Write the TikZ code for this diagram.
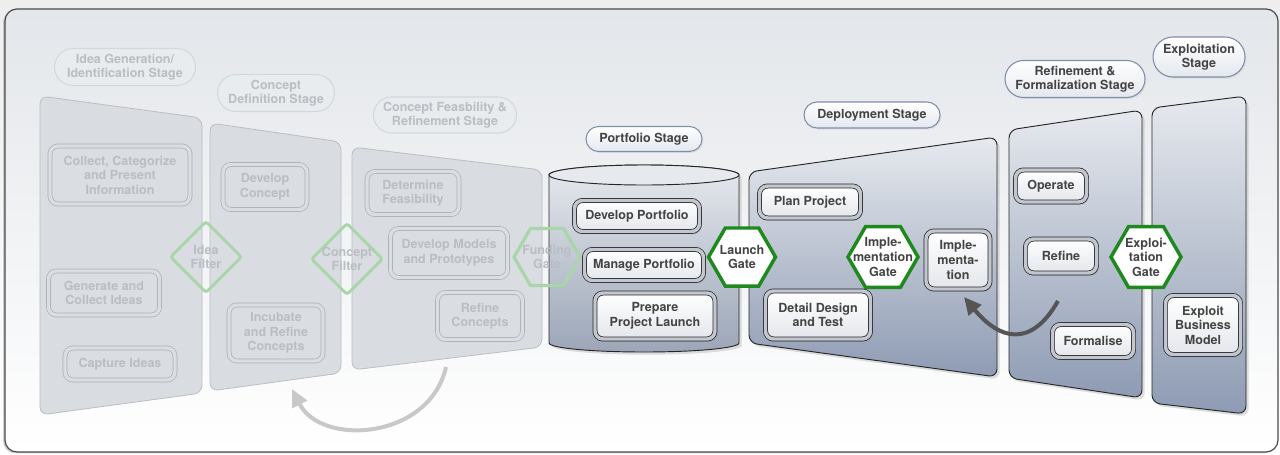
\documentclass[tikz,border=0pt]{standalone}
\usepackage{fontspec}
\setmainfont{TeX Gyre Heros}
\usetikzlibrary{shapes.geometric,shapes.misc,shadows,arrows.meta}
\definecolor{txt}{HTML}{444444}
\definecolor{ftxt}{HTML}{BABDC1}
\definecolor{fline}{HTML}{ABAEB2}
\definecolor{fband}{HTML}{DADDE1}
\definecolor{fpanel}{HTML}{D9DCE0}
\definecolor{fpline}{HTML}{BABDC1}
\definecolor{dline}{HTML}{262626}
\definecolor{dband}{HTML}{C2C6CE}
\definecolor{boxbot}{HTML}{E3E6EB}
\definecolor{ptop}{HTML}{E6E9EE}
\definecolor{pbot}{HTML}{8E9BB3}
\definecolor{cbot}{HTML}{9CA6B8}
\definecolor{gatec}{HTML}{1E8A1E}
\definecolor{fgatec}{HTML}{A8D6A8}
\definecolor{lblline}{HTML}{7F8EA9}
\definecolor{lblbot}{HTML}{E4E8EE}
\definecolor{flblline}{HTML}{D2D8E0}
\definecolor{flblfill}{HTML}{E9ECEF}
\definecolor{bgtop}{HTML}{E3E6EA}
\definecolor{outtop}{HTML}{EEEEEE}
\definecolor{frameline}{HTML}{4A4A4A}
\definecolor{garrow}{HTML}{C8C8C8}
\definecolor{darrow}{HTML}{555555}
\tikzset{
  sz/.style 2 args={minimum width={(#1)*0.75pt}, minimum height={(#2)*0.75pt}},
  base/.style={align=center, inner sep=0pt},
  task/.style={base, rectangle, rounded corners=6pt, draw=dline, line width=0.55pt,
    double=dband, double distance=2.6pt, top color=white, bottom color=boxbot, text=txt,
    drop shadow={opacity=0.3, shadow xshift=1.5pt, shadow yshift=-2pt}},
  ftask/.style={base, rectangle, rounded corners=6pt, draw=fline, line width=0.5pt,
    double=fband, double distance=2.6pt, fill=fband, text=ftxt},
  stagelbl/.style={base, rounded rectangle, draw=lblline, line width=0.8pt,
    top color=white, bottom color=lblbot, text=txt,
    drop shadow={opacity=0.12, shadow xshift=1pt, shadow yshift=-1.2pt}},
  fstagelbl/.style={base, rounded rectangle, draw=flblline, line width=0.8pt,
    fill=flblfill, text=ftxt},
  gatehex/.style={regular polygon, regular polygon sides=6, draw=gatec, line width=2.6pt,
    fill=white, inner sep=0pt},
  fgatehex/.style={regular polygon, regular polygon sides=6, draw=fgatec, line width=2.4pt,
    inner sep=0pt},
  fgatedia/.style={diamond, draw=fgatec, line width=2.2pt, rounded corners=2pt, inner sep=0pt},
  gtxt/.style={base, text=txt},
  fgtxt/.style={base, text=ftxt},
  fpanelsty/.style={fill=fpanel, draw=fpline, line width=0.6pt, rounded corners=6pt},
  dpanelsty/.style={top color=ptop, bottom color=pbot, draw=dline, line width=0.7pt,
    rounded corners=6pt, drop shadow={opacity=0.25, shadow xshift=2pt, shadow yshift=-2pt}},
}
\begin{document}
\begin{tikzpicture}[x=0.75pt, y=-0.75pt, font=\fontsize{9.4}{10.9}\selectfont\bfseries]
\useasboundingbox (0,0) rectangle (1280,454);
\fill[top color=outtop, bottom color=white] (0,0) rectangle (1280,454);
% frame
\path[draw=frameline, line width=0.9pt, rounded corners=9pt, top color=bgtop, bottom color=white,
  drop shadow={opacity=0.35, shadow xshift=-1.5pt, shadow yshift=-1pt}] (5,9) rectangle (1278,452);

% faded panels
\path[fpanelsty] (40,96) -- (202,118) -- (202,393) -- (40,415) -- cycle;
\path[fpanelsty] (210,123) -- (341,142) -- (341,373) -- (210,391) -- cycle;
\path[fpanelsty] (352,147) -- (542,170) -- (542,347) -- (352,370) -- cycle;

% cylinder (portfolio)
\path[top color=ptop, bottom color=cbot, draw=dline, line width=0.7pt,
  drop shadow={opacity=0.25, shadow xshift=2pt, shadow yshift=-2pt}]
  (549,175) -- (549,343) arc[start angle=180, end angle=0, x radius=95, y radius=9]
  -- (739,175) arc[start angle=360, end angle=180, x radius=95, y radius=10] -- cycle;
\path[fill=ptop, draw=dline, line width=0.7pt] (644,175) ellipse [x radius=95, y radius=10];

% dark panels
\path[dpanelsty] (749,172) -- (997,137) -- (997,377) -- (749,343) -- cycle;
\path[dpanelsty] (1009,130) -- (1142,110) -- (1142,398) -- (1009,378) -- cycle;
\path[dpanelsty] (1152,108) -- (1246,96) -- (1246,414) -- (1152,403) -- cycle;

% stage labels
\node[fstagelbl, sz={141}{37}] (sIdea) at (125,67) {Idea Generation/\\Identification Stage};
\node[fstagelbl, sz={117}{37}] (sCdef) at (276,93) {Concept\\Definition Stage};
\node[fstagelbl, sz={143}{36}] (sCfeas) at (445,115) {Concept Feasbility \&\\Refinement Stage};
\node[stagelbl, sz={116}{25}] (sPort) at (644,139) {Portfolio Stage};
\node[stagelbl, sz={136}{26}] (sDep) at (872,115) {Deployment Stage};
\node[stagelbl, sz={140}{37}] (sRef) at (1075,79) {Refinement \&\\Formalization Stage};
\node[stagelbl, sz={92}{40}] (sExp) at (1199,57) {Exploitation\\Stage};

% faded tasks
\node[ftask, sz={140}{58}] (collect) at (120,175) {Collect, Categorize\\and Present\\Information};
\node[ftask, sz={84}{45}] (devconcept) at (265,187) {Develop\\Concept};
\node[ftask, sz={111}{44}] (generate) at (104,293) {Generate and\\Collect Ideas};
\node[ftask, sz={110}{32}] (capture) at (120,364) {Capture Ideas};
\node[ftask, sz={94}{56}] (incubate) at (276,333) {Incubate\\and Refine\\Concepts};
\node[ftask, sz={92}{43}] (determine) at (413,193) {Determine\\Feasibility};
\node[ftask, sz={117}{49}] (models) at (449,253) {Develop Models\\and Prototypes};
\node[ftask, sz={85}{47}] (refconc) at (480,316) {Refine\\Concepts};

% dark tasks
\node[task, sz={125}{31}] (devport) at (637,216) {Develop Portfolio};
\node[task, sz={119}{31}] (manport) at (644,265) {Manage Portfolio};
\node[task, sz={120}{46}] (prepare) at (655,316) {Prepare\\Project Launch};
\node[task, sz={101}{32}] (plan) at (810,202) {Plan Project};
\node[task, sz={105}{48}] (detail) at (818,315) {Detail Design\\and Test};
\node[task, sz={64}{58}] (impl) at (958,260) {Imple-\\menta-\\tion};
\node[task, sz={71}{32}] (operate) at (1051,186) {Operate};
\node[task, sz={71}{34}] (refine) at (1061,256) {Refine};
\node[task, sz={81}{33}] (formalise) at (1093,341) {Formalise};
\node[task, sz={75}{59}] (exploit) at (1203,325) {Exploit\\Business\\Model};

% gates
\node[fgatedia, sz={72}{72}] (ideaF) at (206,257) {};
\node[fgtxt] (ideaFt) at (ideaF) {Idea\\Filter};
\node[fgatedia, sz={72}{72}] (conceptF) at (347,259) {};
\node[fgtxt] (conceptFt) at (conceptF) {Concept\\Filter};
\node[fgatehex, minimum size={66*0.75pt}] (fundG) at (547,257) {};
\node[fgtxt] (fundGt) at (fundG) {Funding\\Gate};
\node[gatehex, minimum size={67*0.75pt}] (launchG) at (742,257) {};
\node[gtxt] (launchGt) at (launchG) {Launch\\Gate};
\node[gatehex, minimum size={70*0.75pt}] (implG) at (883,257) {};
\node[gtxt] (implGt) at (implG) {Imple-\\mentation\\Gate};
\node[gatehex, minimum size={70*0.75pt}] (exploiG) at (1146,257) {};
\node[gtxt] (exploiGt) at (exploiG) {Exploi-\\tation\\Gate};

% arrows
\coordinate (gstart) at (446,367);
\coordinate (gtip) at (292,389);
\draw[garrow, line width=3pt, -{Triangle[length=13pt, width=12pt]}]
  (gstart) .. controls (429.5,439.75) and (321.25,446.85) .. (gtip);
\coordinate (dstart) at (1058,301);
\coordinate (dtip) at (964,297);
\draw[darrow, line width=3pt, -{Triangle[length=13pt, width=12pt]}]
  (dstart) .. controls (1030.5,348.9) and (999.2,339.4) .. (dtip);
\end{tikzpicture}
\end{document}
